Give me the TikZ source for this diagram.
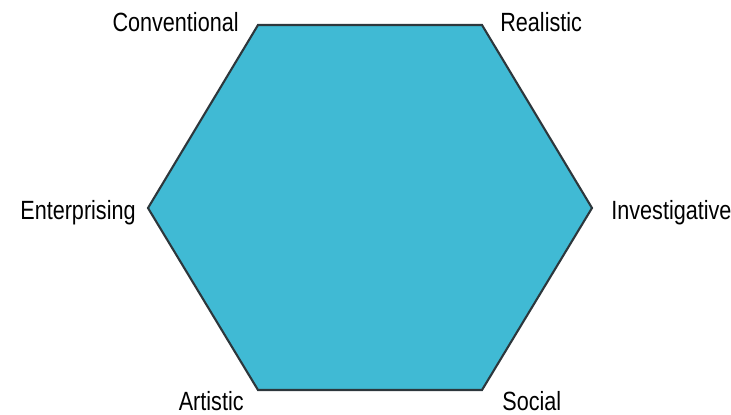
\documentclass[tikz,border=0pt]{standalone}
\usepackage{fontspec}
\setmainfont{Liberation Sans}[FakeStretch=0.82]
\usetikzlibrary{positioning}
\definecolor{hexfill}{RGB}{64,186,212}
\definecolor{hexline}{RGB}{45,55,60}

\begin{document}
\begin{tikzpicture}[x=0.02cm, y=-0.02cm,
  corner/.style={font=\fontsize{15}{18}\selectfont, inner sep=0pt},
  hexagon/.style={draw=hexline, fill=hexfill, line width=1.2pt, line join=miter}
]
\useasboundingbox (0,0) rectangle (731,414);
% corners of the hexagon
\coordinate (c) at (258,25);
\coordinate (r) at (482,25);
\coordinate (i) at (592,208);
\coordinate (s) at (482,390);
\coordinate (a) at (258,390);
\coordinate (e) at (148,208);
\draw[hexagon] (c) -- (r) -- (i) -- (s) -- (a) -- (e) -- cycle;
% labels
\node[corner, anchor=east] (conv) at (239,22) {Conventional};
\node[corner, anchor=west] (real) at (500,22) {Realistic};
\node[corner, anchor=east] (ent) at (136,213) {Enterprising};
\node[corner, anchor=west] (inv) at (611,213) {Investigative};
\node[corner, anchor=east] (art) at (244,401) {Artistic};
\node[corner, anchor=west] (soc) at (502,401) {Social};
\end{tikzpicture}
\end{document}
